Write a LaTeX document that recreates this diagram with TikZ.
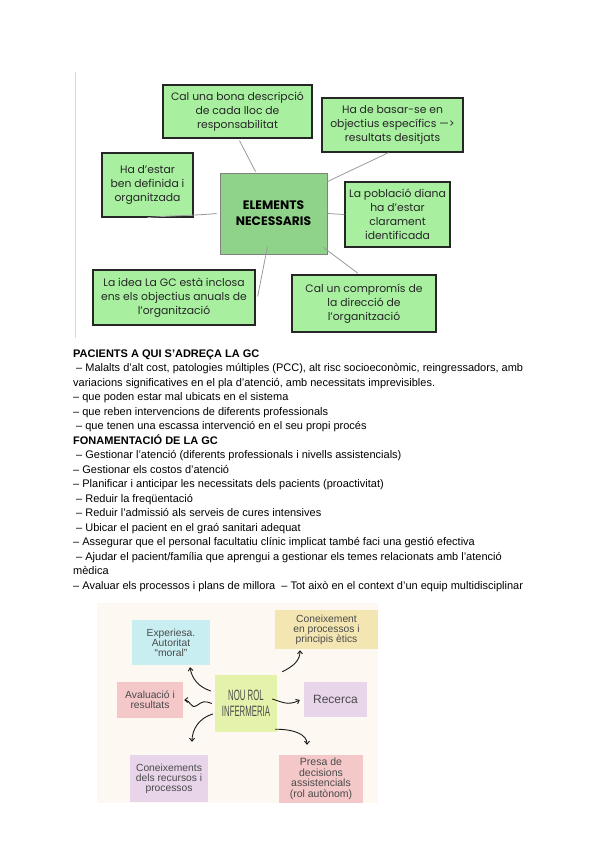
\documentclass[tikz,border=0pt]{standalone}
\usepackage{fontspec}
\setmainfont{Liberation Sans}
\newfontfamily\popfont{Poppins}
\usetikzlibrary{calc,arrows.meta}
\definecolor{boxgreen}{HTML}{A8F0A0}
\definecolor{centergreen}{HTML}{8FD38A}
\definecolor{linegray}{HTML}{9A9A9A}
\definecolor{cream}{HTML}{FDF8F2}
\definecolor{cyanbox}{HTML}{C8EEF2}
\definecolor{yellowbox}{HTML}{F3E6B2}
\definecolor{pinkbox}{HTML}{F4C8C8}
\definecolor{lilacbox}{HTML}{E8D5EA}
\definecolor{limebox}{HTML}{E4F2AB}
\definecolor{graytext}{HTML}{4A4A4A}
\tikzset{
  gbox/.style={draw=black!85, line width=1.3pt, fill=boxgreen, inner sep=0pt, align=center,
    font=\popfont\fontsize{10.8}{14}\selectfont, text=black!85},
  cbox/.style={draw=gray, line width=0.8pt, fill=centergreen, inner sep=0pt, align=center,
    font=\popfont\bfseries\fontsize{12.3}{16}\selectfont},
  glink/.style={draw=linegray, line width=0.8pt},
  pbox/.style={inner sep=0pt, align=center, text=graytext,
    font=\fontsize{10.3}{10}\selectfont},
  harrow/.style={draw=black!90, line width=0.9pt, -{Straight Barb[length=3pt,width=5pt]}},
  txt/.style={anchor=base west, inner sep=0pt, font=\fontsize{11}{13}\selectfont},
  hdr/.style={txt, font=\bfseries\fontsize{11}{13}\selectfont},
}
\begin{document}
\begin{tikzpicture}[x=1pt,y=-1pt]
\useasboundingbox (0,0) rectangle (600,848);
\fill[white] (0,0) rectangle (600,848);

% ---------- top diagram ----------
\draw[black!15, line width=0.8pt] (75,72) -- (75,338);
\node[gbox, minimum width=149pt, minimum height=53pt] (A) at (237.5,111.5)
  {Cal una bona descripció\\de cada lloc de\\responsabilitat};
\node[gbox, minimum width=141pt, minimum height=54pt] (B) at (392.5,125)
  {Ha de basar-se en\\objectius específics —>\\resultats desitjats};
\node[gbox, minimum width=91pt, minimum height=64pt] (C) at (147.5,185)
  {Ha d’estar\\ben definida i\\organitzada};
\node[cbox, minimum width=107pt, minimum height=81pt] (D) at (273.5,213.5)
  {ELEMENTS\\NECESSARIS};
\node[gbox, minimum width=105pt, minimum height=65pt] (E) at (397.5,214.5)
  {La població diana\\ha d’estar\\clarament\\identificada};
\node[gbox, minimum width=162pt, minimum height=55pt] (F) at (174,297.5)
  {La idea La GC està inclosa\\ens els objectius anuals de\\l’organització};
\node[gbox, minimum width=144pt, minimum height=57pt] (G) at (364,303.5)
  {Cal un compromís de\\la direcció de\\l’organització};

\draw[glink] ($(A.south)+(2,2)$) -- ($(D.north)+(-18,-1)$);
\draw[glink] ($(B.south)+(-4,0)$) -- ($(D.north east)+(0,9)$);
\draw[glink] (C.south) .. controls +(20,-2) and +(-20,2) .. ($(D.west)+(-3,0)$);
\draw[glink] (D.east) -- (E.west);
\draw[glink] ($(D.south)+(-6,-8)$) -- ($(F.east)+(2,-1)$);
\draw[glink] ($(D.south east)+(-4,-7)$) -- ($(G.north)+(-6,-1)$);

% ---------- text ----------
\node[hdr] (t1) at (73,357) {PACIENTS A QUI S’ADREÇA LA GC};
\node[txt] (t2) at (76,371.5) {– Malalts d’alt cost, patologies múltiples (PCC), alt risc socioeconòmic, reingressadors, amb};
\node[txt] (t3) at (73,386) {variacions significatives en el pla d’atenció, amb necessitats imprevisibles.};
\node[txt] (t4) at (73,400.5) {– que poden estar mal ubicats en el sistema};
\node[txt] (t5) at (73,415) {– que reben intervencions de diferents professionals};
\node[txt] (t6) at (76,429.5) {– que tenen una escassa intervenció en el seu propi procés};
\node[hdr] (t7) at (73,444) {FONAMENTACIÓ DE LA GC};
\node[txt] (t8) at (76,458.5) {– Gestionar l’atenció (diferents professionals i nivells assistencials)};
\node[txt] (t9) at (73,473) {– Gestionar els costos d’atenció};
\node[txt] (t10) at (73,487.5) {– Planificar i anticipar les necessitats dels pacients (proactivitat)};
\node[txt] (t11) at (76,502) {– Reduir la freqüentació};
\node[txt] (t12) at (76,516.5) {– Reduir l’admissió als serveis de cures intensives};
\node[txt] (t13) at (76,531) {– Ubicar el pacient en el graó sanitari adequat};
\node[txt] (t14) at (73,545.5) {– Assegurar que el personal facultatiu clínic implicat també faci una gestió efectiva};
\node[txt] (t15) at (76,560) {– Ajudar el pacient/família que aprengui a gestionar els temes relacionats amb l’atenció};
\node[txt] (t16) at (73,574.5) {mèdica};
\node[txt] (t17) at (73,589) {– Avaluar els processos i plans de millora \ – Tot això en el context d’un equip multidisciplinar};

% ---------- bottom diagram ----------
\fill[cream] (97,603) rectangle (378,803);
\node[pbox, fill=cyanbox, minimum width=78pt, minimum height=45pt] (H) at (171,642.5)
  {Experiesa.\\Autoritat\\“moral”};
\node[pbox, fill=yellowbox, minimum width=103pt, minimum height=39pt] (I) at (326.5,629.5)
  {Coneixement\\en processos i\\principis ètics};
\node[pbox, fill=pinkbox, minimum width=66pt, minimum height=36pt] (J) at (150,700)
  {Avaluació i\\resultats};
\node[pbox, fill=limebox, minimum width=62pt, minimum height=57pt, text=black!70,
  font=\fontsize{15}{15.5}\selectfont] (K) at (246,703.5)
  {\scalebox{0.52}[1]{NOU ROL}\\\scalebox{0.52}[1]{INFERMERIA}};
\node[pbox, fill=lilacbox, minimum width=63pt, minimum height=35pt,
  font=\fontsize{12}{12}\selectfont] (L) at (335.5,699.5) {Recerca};
\node[pbox, fill=lilacbox, minimum width=78pt, minimum height=47pt] (M) at (169,778.5)
  {Coneixements\\dels recursos i\\processos};
\node[pbox, fill=pinkbox, minimum width=84pt, minimum height=48pt,
  font=\fontsize{10.5}{10.5}\selectfont] (N) at (321,779)
  {Presa de\\decisions\\assistencials\\(rol autònom)};

\draw[harrow] ($(K.west)+(-4,-12.5)$) .. controls +(-12,-4) and +(2,12) .. ($(H.south)+(19,2)$);
\draw[harrow] ($(K.west)+(-3,0)$) .. controls +(-8,-3) and +(6,-4) .. ($(K.west)+(-18,2)$)
  .. controls +(-6,4) and +(6,0) .. ($(J.east)+(1,0)$);
\draw[harrow] ($(K.west)+(-2,10.5)$) .. controls +(-14,4) and +(0,-12) .. ($(M.north)+(23,-13)$);
\draw[harrow] ($(K.north east)+(5,-3)$) .. controls +(12,-6) and +(0,10) .. ($(I.south)+(-26.5,1)$);
\draw[harrow] ($(K.east)+(-5,-4.5)$) .. controls +(10,3) and +(-12,6) .. ($(L.west)+(-4,0.5)$);
\draw[harrow] ($(K.south east)+(-2,-3)$) .. controls +(20,0) and +(0,-10) .. ($(N.north)+(-14,-10)$);
\end{tikzpicture}
\end{document}
